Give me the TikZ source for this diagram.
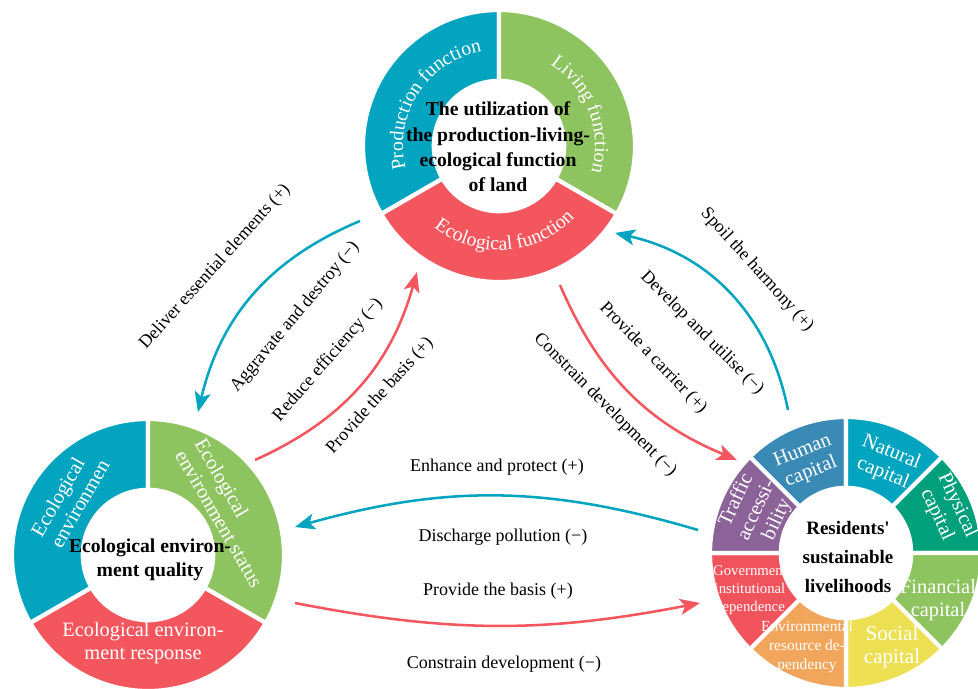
\documentclass[tikz,border=0pt]{standalone}
\usepackage{fontspec}
\setmainfont{Liberation Serif}
\usetikzlibrary{arrows.meta, calc, decorations.text}

\definecolor{ringblue}{HTML}{03A4BF}
\definecolor{ringgreen}{HTML}{8EC45F}
\definecolor{ringred}{HTML}{F4565E}
\definecolor{humanblue}{HTML}{3A8AB6}
\definecolor{physgreen}{HTML}{00A07B}
\definecolor{socyellow}{HTML}{EDE053}
\definecolor{envorange}{HTML}{F2A65C}
\definecolor{govred}{HTML}{F1535C}
\definecolor{trafpurple}{HTML}{8C6399}

\begin{document}
\begin{tikzpicture}[
    ringtext/.style={text=white, align=center, font=\fontsize{14.5}{16}\selectfont},
    smalltext/.style={text=white, align=center, font=\fontsize{10.5}{13}\selectfont},
    coretext/.style={align=center, font=\bfseries\fontsize{14}{18}\selectfont},
    arrowtext/.style={font=\fontsize{12.8}{14}\selectfont},
    bluearrow/.style={draw=ringblue, line width=1.8pt, -{Stealth[length=0.5cm, width=0.4cm, inset=0.12cm]}},
    redarrow/.style={draw=ringred, line width=1.8pt, -{Stealth[length=0.5cm, width=0.4cm, inset=0.12cm]}},
    arctext/.style={decorate, decoration={text along path, text align=center,
        text={|\fontsize{14}{16}\selectfont\color{white}|#1}}}
]

    \useasboundingbox (0,0) rectangle (24.45,17.2);

    % one coloured sector of a ring, start/end angle/colour
    \tikzset{
        pics/ringpart/.style args={#1/#2/#3}{code={
            \fill[#3, draw=white, line width=3pt] (#1:3.4) arc[start angle=#1, end angle=#2, radius=3.4]
                -- (#2:1.63) arc[start angle=#2, end angle=#1, radius=1.63] -- cycle;
        }}
    }

    % ring centres
    \coordinate (land) at (12.475,13.55);
    \coordinate (eco) at (3.7,3.325);
    \coordinate (live) at (21.15,3.375);

    % ================= LAND FUNCTIONS =================
    \pic at (land) {ringpart=90/210/ringblue};
    \pic at (land) {ringpart=-30/90/ringgreen};
    \pic at (land) {ringpart=210/330/ringred};

    \path[arctext={Production function}] ($(land)+(200:2.4)$) arc[start angle=200, end angle=94, radius=2.4];
    \path[arctext={Living function}] ($(land)+(80:2.4)$) arc[start angle=80, end angle=-38, radius=2.4];
    \path[arctext={Ecological function}] ($(land)+(215:2.6)$) arc[start angle=215, end angle=333, radius=2.6];

    \node[coretext] (landcore) at (12.45,13.525) {The utilization of\\ the production-living-\\ ecological function\\ of land};

    % ================= ECOLOGICAL ENVIRONMENT =================
    \pic at (eco) {ringpart=90/210/ringblue};
    \pic at (eco) {ringpart=-30/90/ringgreen};
    \pic at (eco) {ringpart=210/330/ringred};

    \node[ringtext, align=left, rotate=60] (ecoenv) at (1.75,4.75) {Ecological\\ environmen};
    \node[ringtext, align=left, rotate=-60] (ecostatus) at (5.725,4.375) {Ecological\\ environment status};
    \node[ringtext] (ecoresp) at (3.575,1.125) {Ecological environ-\\ ment response};

    \node[coretext, font=\bfseries\fontsize{14}{17}\selectfont] (ecocore) at (3.75,3.2) {Ecological environ-\\ ment quality};

    % ================= LIVELIHOOD CAPITALS =================
    \pic at (live) {ringpart=90/135/humanblue};
    \pic at (live) {ringpart=45/90/ringblue};
    \pic at (live) {ringpart=0/45/physgreen};
    \pic at (live) {ringpart=-45/0/ringgreen};
    \pic at (live) {ringpart=-90/-45/socyellow};
    \pic at (live) {ringpart=225/270/envorange};
    \pic at (live) {ringpart=180/225/govred};
    \pic at (live) {ringpart=135/180/trafpurple};

    \node[ringtext, rotate=22] (human) at (20.175,5.65) {Human\\ capital};
    \node[ringtext, rotate=-22] (natural) at (22.175,5.625) {Natural\\ capital};
    \node[ringtext, rotate=-65] (physical) at (23.675,4.45) {Physical\\ capital};
    \node[ringtext] (financial) at (23.45,2.2) {Financial\\ capital};
    \node[ringtext, font=\fontsize{15}{16}\selectfont] (social) at (22.3,1.025) {Social\\ capital};
    \node[smalltext, font=\fontsize{11}{13.5}\selectfont] (envres) at (20.175,1.025) {Environmental\\ resource de-\\ pendency};
    \node[smalltext] (govdep) at (18.75,2.45) {Government\\ institutional\\ dependence};
    \node[ringtext, rotate=65] (traffic) at (18.925,4.45) {Traffic\\ accessi-\\ bility};

    \node[coretext, font=\bfseries\fontsize{13.5}{20.3}\selectfont] (livecore) at (21.2,3.275) {Residents\textquotesingle\\ sustainable\\ livelihoods};

    % ================= ARROW ENDS =================
    \coordinate (landW) at (9.0,11.675);
    \coordinate (ecoN) at (4.95,6.9);
    \coordinate (ecoNE) at (6.375,5.7);
    \coordinate (landSW) at (10.425,10.4);
    \coordinate (liveN) at (19.7,6.95);
    \coordinate (landE) at (15.375,11.375);
    \coordinate (landSE) at (14.0,10.075);
    \coordinate (liveNW) at (18.425,5.7);
    \coordinate (liveW) at (17.45,3.95);
    \coordinate (ecoE) at (7.375,4.025);
    \coordinate (ecoSE) at (7.375,2.125);
    \coordinate (liveSW) at (17.5,2.125);

    \draw[bluearrow] (landW) to[bend right=27] (ecoN);
    \draw[redarrow] (ecoNE) to[bend right=25] (landSW);
    \draw[bluearrow] (liveN) to[bend right=33] (landE);
    \draw[redarrow] (landSE) to[bend right=22] (liveNW);
    \draw[bluearrow] (liveW) to[bend right=16] (ecoE);
    \draw[redarrow] (ecoSE) to[bend right=11] (liveSW);

    % ================= ARROW LABELS =================
    \node[arrowtext, rotate=48] (deliver) at (5.375,10.525) {Deliver essential elements (+)};
    \node[arrowtext, rotate=50] (aggravate) at (7.375,9.275) {Aggravate and destroy (−)};
    \node[arrowtext, rotate=49] (reduce) at (8.2,8.2) {Reduce efficiency (−)};
    \node[arrowtext, rotate=48] (basisL) at (9.5,7.3) {Provide the basis (+)};

    \node[arrowtext, rotate=-48] (spoil) at (18.925,10.45) {Spoil the harmony (+)};
    \node[arrowtext, rotate=-45] (develop) at (17.55,8.875) {Develop and utilise (−)};
    \node[arrowtext, rotate=-46] (carrier) at (16.325,8.25) {Provide a carrier (+)};
    \node[arrowtext, rotate=-45] (constrainR) at (15.125,7.075) {Constrain development (−)};

    \node[arrowtext] (enhance) at (12.425,5.525) {Enhance and protect (+)};
    \node[arrowtext] (discharge) at (12.575,3.775) {Discharge pollution (−)};
    \node[arrowtext] (basisB) at (12.45,2.425) {Provide the basis (+)};
    \node[arrowtext] (constrainB) at (12.6,0.6) {Constrain development (−)};

\end{tikzpicture}
\end{document}
